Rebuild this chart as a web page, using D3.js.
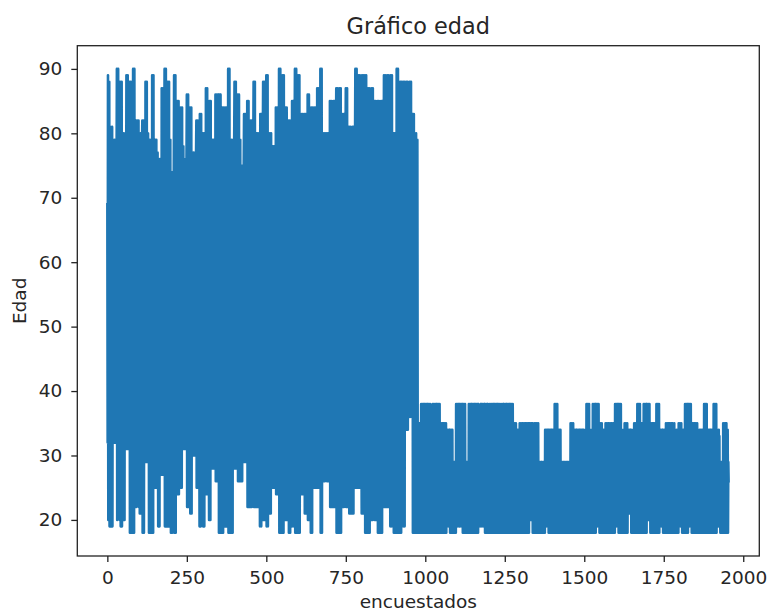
<!DOCTYPE html>
<html>
<head>
<meta charset="utf-8">
<script src="https://cdn.jsdelivr.net/npm/d3@7"></script>
<style>
  html, body { margin: 0; padding: 0; background: #ffffff; }
  svg text { font-family: "DejaVu Sans", sans-serif; fill: #262626; }
</style>
</head>
<body>
<svg id="chart" width="768" height="612"></svg>
<script>
// ---- data ----
const titulo = "Gráfico edad";
const etiquetaX = "encuestados";
const etiquetaY = "Edad";
const xTicks = [0, 250, 500, 750, 1000, 1250, 1500, 1750, 2000];
const yTicks = [20, 30, 40, 50, 60, 70, 80, 90];

// Edad per encuestado, first block (indices 0..976)
const edadBloque1 = [
69,32,89,20,76,35,88,19,60,33, 81,40,19,78,33,81,19,70,36,79,
32,77,45,79,34,68,32,79,38,74, 90,20,75,36,90,21,66,34,77,20,
88,35,19,78,41,88,19,72,33,80, 20,80,37,71,20,78,44,80,34,62,
89,31,76,40,89,33,70,31,79,38, 88,18,74,36,88,18,65,34,79,40,
18,90,35,77,18,90,42,72,33,80, 82,22,70,38,82,24,77,35,82,22,
38,80,21,74,43,80,21,69,36,78, 82,18,76,39,82,18,61,35,79,33,
88,29,75,41,88,29,70,37,80,34, 79,18,72,35,79,18,76,44,79,31,
18,89,36,73,18,89,40,78,33,67, 79,25,72,38,79,25,68,35,77,42,
19,76,36,70,19,76,41,73,34,76, 27,87,39,74,27,87,35,71,44,78,
90,19,73,36,90,19,77,40,68,33, 88,19,75,38,88,19,70,35,79,42,
18,74,37,70,18,74,33,72,40,74, 89,18,76,35,89,18,67,39,78,34,
85,24,72,38,85,24,77,34,70,41, 25,84,36,75,25,84,43,71,35,78,
31,76,38,72,31,76,35,70,31,76, 86,22,74,37,86,22,69,40,78,35,
84,21,77,36,84,21,72,42,66,34, 30,77,39,73,30,77,36,71,44,77,
82,25,75,38,82,25,70,34,78,40, 19,83,36,74,19,83,41,72,33,79,
80,19,73,37,80,19,68,35,77,43, 87,24,76,39,87,24,71,36,79,33,
20,85,38,74,20,85,35,78,42,70, 79,28,72,40,79,28,75,36,70,34,
86,26,77,37,86,26,73,41,86,35, 86,18,74,38,86,18,86,34,78,40,
18,84,39,72,18,84,36,76,33,69, 84,19,77,41,84,19,70,35,79,38,
90,18,73,36,90,18,76,42,71,34, 18,79,37,75,18,79,40,72,35,79,
88,28,74,39,88,28,77,35,70,43, 86,26,72,38,86,26,75,36,79,41,
26,75,40,71,26,75,37,73,34,75, 83,29,76,38,83,29,70,42,78,35,
85,22,73,36,85,22,77,40,69,33, 22,82,39,75,22,82,35,72,41,78,
88,22,76,37,88,22,71,34,79,40, 80,22,74,39,80,22,77,36,68,43,
19,83,38,72,19,83,35,76,40,79, 88,20,75,36,88,20,70,41,78,34,
89,19,77,38,89,19,73,35,79,42, 21,80,40,74,21,80,36,71,34,77,
78,25,72,39,78,25,75,37,69,41, 84,24,76,35,84,24,70,40,78,36,
90,18,74,38,90,18,77,34,71,42, 18,89,37,75,18,89,41,72,35,79,
84,20,73,39,84,20,76,36,70,33, 82,18,77,40,82,18,71,37,78,35,
19,85,36,74,19,85,42,72,38,79, 90,18,75,37,90,18,70,34,77,41,
89,18,72,39,89,18,76,35,79,38, 24,83,40,73,24,83,36,77,33,70,
83,21,76,38,83,21,71,42,78,35, 86,20,74,36,86,20,77,39,69,34,
18,84,37,75,18,84,41,72,35,78, 84,25,73,39,84,25,76,36,70,42,
87,25,77,35,87,25,72,40,79,37, 90,18,74,38,90,18,70,34,77,41,
26,80,39,73,26,80,36,76,42,71, 80,26,75,37,80,26,72,35,78,40,
85,22,71,40,85,22,77,36,74,34, 22,85,38,76,22,85,35,70,41,79,
87,18,73,36,87,18,77,39,72,35, 87,18,76,41,87,18,70,37,78,34,
22,83,37,74,22,83,40,71,36,77, 87,22,72,35,87,22,76,42,79,38,
81,21,77,39,81,21,73,36,69,41, 21,81,36,75,21,81,38,72,34,78,
90,25,74,40,90,25,71,37,77,35, 89,25,76,36,89,25,73,41,79,38,
21,89,39,72,21,89,35,77,42,70, 89,18,75,37,89,18,71,34,78,40,
87,18,73,41,87,18,76,36,69,38, 20,87,38,77,20,87,35,72,40,75,
85,20,74,36,85,20,70,42,78,34, 85,18,76,39,85,18,73,37,71,41,
18,85,35,74,18,85,40,77,36,72, 89,22,72,38,89,22,76,34,79,43,
89,22,75,40,89,22,71,36,77,35, 19,89,37,73,19,89,42,76,34,70,
80,18,74,39,80,18,77,35,72,41, 90,18,71,36,90,18,75,40,78,37,
18,88,38,76,18,88,35,73,41,79, 88,19,72,37,88,19,77,42,70,36,
88,34,75,40,88,34,71,38,79,36, 36,88,41,74,36,88,39,77,37,72,
83,18,76,38,83,18,70,35,78,40, 18,80,36,74,18,79,35
];

// Edad per encuestado, second block (indices 977..1954)
const edadBloque2 = [
35,18,33,20,35,18,31,22,34,18, 38,18,34,21,38,19,33,18,38,20,
38,18,35,20,38,18,32,19,38,18, 38,21,34,18,38,18,33,20,38,18,
35,18,33,20,35,18,38,19,34,18, 38,18,34,22,38,18,35,19,38,18,
38,20,33,18,38,18,34,21,38,18, 35,18,32,20,35,18,34,19,35,18,
35,19,33,18,35,18,31,22,35,18, 34,19,32,21,34,19,33,20,34,19,
34,18,31,20,34,18,33,19,34,18, 29,18,27,20,29,18,26,19,29,18,
38,19,34,21,38,19,33,20,38,19, 38,19,35,22,38,19,32,20,38,19,
38,18,34,20,38,18,33,21,38,18, 29,18,27,19,29,18,28,20,29,18,
38,18,34,20,38,18,35,19,38,18, 38,20,33,18,38,18,34,22,38,18,
38,18,35,19,38,18,32,20,38,18, 38,19,34,20,24,19,22,38,20,38,
38,19,33,21,38,19,34,20,38,19, 38,18,35,20,38,18,33,19,38,18,
38,18,26,20,25,18,38,19,34,18, 38,18,34,21,38,18,33,20,38,18,
38,20,35,18,38,18,34,19,38,18, 38,18,33,20,38,18,35,22,38,18,
25,18,24,20,38,18,34,19,38,18, 38,18,34,20,38,18,33,21,38,18,
38,19,35,18,38,18,32,20,38,18, 38,18,34,20,38,18,33,19,38,18,
35,18,33,20,35,18,34,19,35,18, 34,18,32,21,34,18,33,20,34,18,
35,18,34,20,35,18,31,19,35,18, 35,19,33,18,35,18,34,20,35,18,
35,18,32,20,35,18,34,21,35,18, 35,20,33,22,35,20,34,21,35,20,
35,18,29,20,28,18,35,19,34,18, 35,18,34,20,35,18,33,19,35,18,
29,18,27,20,29,18,28,19,29,18, 29,19,26,18,29,18,27,20,29,18,
34,19,32,21,34,19,33,20,34,19, 34,18,33,20,34,18,31,19,34,18,
34,18,32,21,34,18,33,20,34,18, 38,18,34,20,38,18,33,19,38,18,
34,18,33,20,34,18,32,19,34,18, 29,18,27,20,29,18,28,19,29,18,
29,19,26,18,29,18,28,20,29,18, 29,18,27,21,29,18,26,19,29,18,
35,18,33,20,35,18,34,19,35,18, 34,18,32,20,34,18,33,21,34,18,
34,19,33,18,34,18,31,20,34,18, 34,18,32,20,34,18,33,19,34,18,
34,18,26,20,25,18,34,19,33,18, 38,18,34,20,38,18,33,19,38,18,
34,18,24,19,23,18,34,20,33,18, 38,18,34,21,38,18,33,20,38,18,
38,19,35,20,38,19,34,21,38,19, 35,18,33,20,35,18,34,19,35,18,
34,18,32,20,34,18,33,21,34,18, 35,19,34,18,35,18,33,20,35,18,
35,18,32,20,35,18,34,19,35,18, 35,18,33,21,35,18,34,20,35,18,
38,19,34,20,38,19,33,21,38,19, 38,18,35,20,38,18,34,19,38,18,
34,18,29,20,28,18,34,19,33,18, 35,18,33,20,35,18,34,19,35,18,
34,21,32,22,34,21,33,23,34,21, 34,18,29,19,28,18,34,20,33,18,
35,18,34,20,35,18,33,19,35,18, 38,18,34,20,38,18,35,19,38,18,
35,19,33,18,35,18,34,20,35,18, 38,18,34,21,38,18,33,20,38,18,
38,20,35,21,38,20,34,22,38,20, 35,18,33,20,35,18,34,19,35,18,
35,18,34,20,35,18,32,19,35,18, 38,18,34,20,38,18,33,21,38,18,
34,19,33,20,34,19,32,21,34,19, 34,18,32,20,34,18,33,19,34,18,
35,18,34,20,35,18,33,19,35,18, 35,19,33,18,35,18,34,20,35,18,
35,18,29,20,28,18,35,19,34,18, 34,18,33,20,34,18,32,19,34,18,
35,19,34,20,35,19,33,21,35,19, 34,18,32,20,34,18,33,19,34,18,
38,18,34,20,38,18,35,19,38,18, 38,19,34,21,38,19,33,20,38,19,
35,18,33,20,35,18,34,19,35,18, 35,18,34,21,35,18,32,20,35,18,
34,18,29,20,28,18,34,19,33,18, 34,18,33,20,34,18,32,19,34,18,
38,18,34,20,38,18,33,19,38,18, 34,18,32,21,34,18,33,20,34,18,
34,19,33,18,34,18,31,20,34,18, 38,18,34,20,38,18,35,19,38,18,
34,19,23,20,22,19,34,21,33,19, 29,18,27,20,29,18,26,19,29,18,
35,18,33,20,35,18,34,19,35,18, 35,18,32,20,34,18,29,26
];

const edad = edadBloque1.concat(edadBloque2);

// ---- layout ----
const svg = d3.select("#chart");
const plot = { left: 77.3, right: 759.3, top: 45.7, bottom: 556 };
const fsTick = 18.5, fsTitle = 22.4, fsLabel = 18.5;

const x = d3.scaleLinear().domain([-94.5, 2050.5]).range([plot.left, plot.right]);
const y = d3.scaleLinear().domain([14.4, 93.6]).range([plot.bottom, plot.top]);

// clip
svg.append("defs").append("clipPath").attr("id", "clip")
  .append("rect")
  .attr("x", plot.left).attr("y", plot.top)
  .attr("width", plot.right - plot.left).attr("height", plot.bottom - plot.top);

// line
const line = d3.line().x((d, i) => x(i)).y(d => y(d));
svg.append("path")
  .datum(edad)
  .attr("clip-path", "url(#clip)")
  .attr("fill", "none")
  .attr("stroke", "#1f77b4")
  .attr("stroke-width", 2.6)
  .attr("stroke-linejoin", "round")
  .attr("stroke-linecap", "square")
  .attr("d", line);

// frame
svg.append("rect")
  .attr("x", plot.left).attr("y", plot.top)
  .attr("width", plot.right - plot.left).attr("height", plot.bottom - plot.top)
  .attr("fill", "none").attr("stroke", "#222").attr("stroke-width", 1.3);

// x axis
const xAxis = d3.axisBottom(x).tickValues(xTicks).tickSize(6).tickPadding(9).tickFormat(d3.format("d"));
const gx = svg.append("g").attr("transform", `translate(0,${plot.bottom})`).call(xAxis);
gx.select(".domain").remove();
gx.selectAll(".tick line").attr("stroke", "#222").attr("stroke-width", 1.3);
gx.selectAll(".tick text")
  .attr("font-size", fsTick).attr("fill", "#262626")
  .attr("font-family", "DejaVu Sans");

// y axis
const yAxis = d3.axisLeft(y).tickValues(yTicks).tickSize(6).tickPadding(9).tickFormat(d3.format("d"));
const gy = svg.append("g").attr("transform", `translate(${plot.left},0)`).call(yAxis);
gy.select(".domain").remove();
gy.selectAll(".tick line").attr("stroke", "#222").attr("stroke-width", 1.3);
gy.selectAll(".tick text")
  .attr("font-size", fsTick).attr("fill", "#262626")
  .attr("font-family", "DejaVu Sans");

// title
svg.append("text")
  .attr("x", (plot.left + plot.right) / 2).attr("y", 33.5)
  .attr("text-anchor", "middle").attr("font-size", fsTitle)
  .text(titulo);

// x label
svg.append("text")
  .attr("x", (plot.left + plot.right) / 2).attr("y", 608)
  .attr("text-anchor", "middle").attr("font-size", fsLabel)
  .text(etiquetaX);

// y label
svg.append("text")
  .attr("transform", `translate(26,${(plot.top + plot.bottom) / 2}) rotate(-90)`)
  .attr("text-anchor", "middle").attr("font-size", fsLabel)
  .text(etiquetaY);
</script>
</body>
</html>
